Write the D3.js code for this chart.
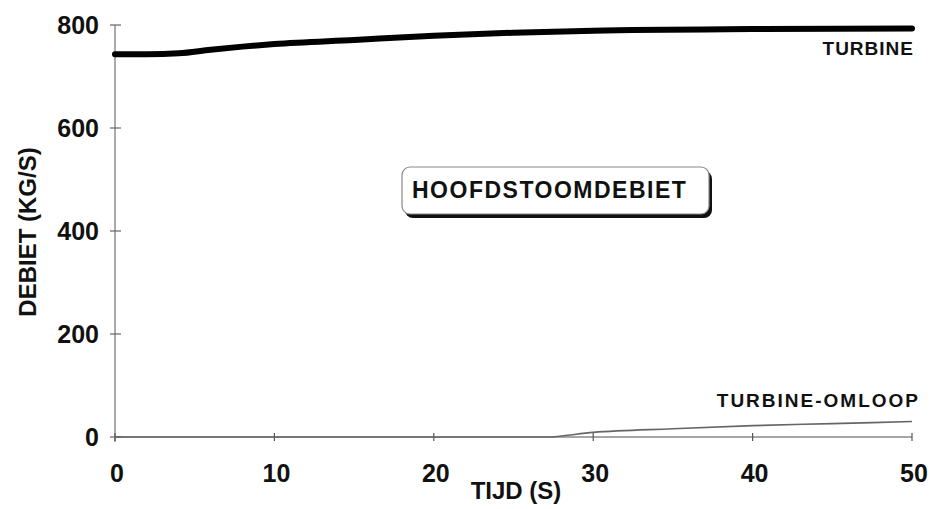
<!DOCTYPE html>
<html>
<head>
<meta charset="utf-8">
<script src="https://cdn.jsdelivr.net/npm/d3@7"></script>
<style>
  body { margin: 0; background: #fff; }
  text { font-family: "Liberation Sans", Arial, sans-serif; font-weight: bold; fill: #111; }
</style>
</head>
<body>
<div id="chart"></div>
<script>
// Data
let xTicks = [0, 10, 20, 30, 40, 50];
let yTicks = [0, 200, 400, 600, 800];
let turbineTime = [0, 2, 4, 6, 8, 10, 15, 20, 25, 30, 40, 50];
let turbineFlow = [743, 743, 745, 752, 758, 763, 771, 779, 785, 789, 792, 793];
let bypassTime = [0, 27, 30, 35, 40, 45, 50];
let bypassFlow = [0, 0, 9, 16, 22, 26, 30];

let width = 933, height = 509;
let margin = { left: 115, right: 21, top: 25, bottom: 72 };

let svg = d3.select("#chart").append("svg")
  .attr("width", width)
  .attr("height", height);

let x = d3.scaleLinear().domain([0, 50]).range([margin.left, width - margin.right]);
let y = d3.scaleLinear().domain([0, 800]).range([height - margin.bottom, margin.top]);

// Axis lines
svg.append("line")
  .attr("x1", x(0)).attr("x2", x(0))
  .attr("y1", y(0) + 5).attr("y2", y(800))
  .attr("stroke", "#aaa").attr("stroke-width", 2);
svg.append("line")
  .attr("x1", x(0)).attr("x2", x(50))
  .attr("y1", y(0)).attr("y2", y(0))
  .attr("stroke", "#888").attr("stroke-width", 1.5);

// Y ticks (crossing the axis)
svg.selectAll(".ytick").data(yTicks).enter().append("line")
  .attr("x1", x(0) - 5).attr("x2", x(0) + 6)
  .attr("y1", d => y(d)).attr("y2", d => y(d))
  .attr("stroke", "#666").attr("stroke-width", 1.2);

svg.selectAll(".ylab").data(yTicks).enter().append("text")
  .attr("x", x(0) - 16)
  .attr("y", d => y(d) + 9)
  .attr("text-anchor", "end")
  .attr("font-size", 25)
  .text(d => d);

// X ticks
svg.selectAll(".xtick").data(xTicks).enter().append("line")
  .attr("x1", d => x(d)).attr("x2", d => x(d))
  .attr("y1", y(0) - 4).attr("y2", y(0) + 4)
  .attr("stroke", "#555").attr("stroke-width", 1.2);

svg.selectAll(".xlab").data(xTicks).enter().append("text")
  .attr("x", d => x(d) + 2)
  .attr("y", y(0) + 45)
  .attr("text-anchor", "middle")
  .attr("font-size", 25)
  .text(d => d);

// Axis titles
svg.append("text")
  .attr("x", 516).attr("y", 499)
  .attr("text-anchor", "middle")
  .attr("font-size", 24)
  .text("TIJD (S)");

svg.append("text")
  .attr("transform", "translate(36,232) rotate(-90)")
  .attr("text-anchor", "middle")
  .attr("font-size", 24)
  .text("DEBIET (KG/S)");

// Series
let line = d3.line()
  .x(d => x(d[0]))
  .y(d => y(d[1]))
  .curve(d3.curveMonotoneX);

svg.append("path")
  .attr("d", line(d3.zip(turbineTime, turbineFlow)))
  .attr("fill", "none")
  .attr("stroke", "#000")
  .attr("stroke-width", 6)
  .attr("stroke-linecap", "round");

svg.append("path")
  .attr("d", line(d3.zip(bypassTime, bypassFlow)))
  .attr("fill", "none")
  .attr("stroke", "#666")
  .attr("stroke-width", 1.6);

// Series labels
svg.append("text")
  .attr("x", 914).attr("y", 55)
  .attr("text-anchor", "end")
  .attr("font-size", 19)
  .attr("letter-spacing", 1)
  .text("TURBINE");

svg.append("text")
  .attr("x", 920).attr("y", 407)
  .attr("text-anchor", "end")
  .attr("font-size", 19)
  .attr("letter-spacing", 2)
  .text("TURBINE-OMLOOP");

// Title box with shadow
let bx = 402, by = 167, bw = 307, bh = 47;
svg.append("rect")
  .attr("x", bx + 3).attr("y", by + 4)
  .attr("width", bw).attr("height", bh)
  .attr("rx", 8)
  .attr("fill", "#111");
svg.append("rect")
  .attr("x", bx).attr("y", by)
  .attr("width", bw).attr("height", bh)
  .attr("rx", 8)
  .attr("fill", "#fff")
  .attr("stroke", "#888")
  .attr("stroke-width", 1.2);
svg.append("text")
  .attr("x", 412).attr("y", 198)
  .attr("font-size", 23)
  .attr("letter-spacing", 1.5)
  .text("HOOFDSTOOMDEBIET");
</script>
</body>
</html>
